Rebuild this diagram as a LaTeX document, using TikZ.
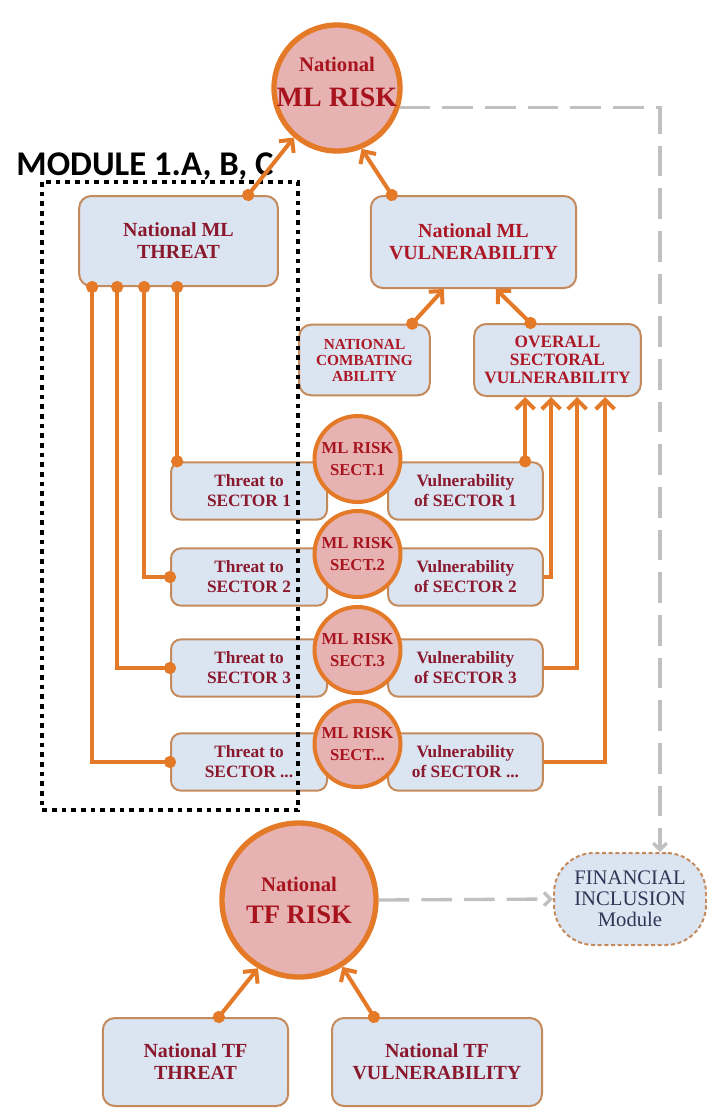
\documentclass[tikz,border=0pt]{standalone}
\usepackage{fontspec}
\setmainfont{Liberation Serif}
\newfontfamily\modfont{Carlito}
\usetikzlibrary{arrows.meta}

\definecolor{lineorange}{RGB}{228,122,40}
\definecolor{boxfill}{RGB}{219,228,241}
\definecolor{boxline}{RGB}{196,138,92}
\definecolor{riskfill}{RGB}{230,178,178}
\definecolor{boxtext}{RGB}{138,25,45}
\definecolor{capsred}{RGB}{172,24,38}
\definecolor{risktext}{RGB}{168,20,30}
\definecolor{linkgrey}{RGB}{192,192,192}
\definecolor{incltext}{RGB}{45,55,85}

\tikzset{every picture/.style={line width=0.75pt}}
\tikzset{
  panel/.style={draw=boxline, fill=boxfill, line width=1.5pt, rounded corners=9pt, align=center, text=boxtext, font=\fontsize{15}{16.5}\selectfont\bfseries},
  secpanel/.style={panel, rounded corners=7.5pt, minimum width=117pt, minimum height=43pt, font=\fontsize{13}{15}\selectfont\bfseries},
  capspanel/.style={panel, text=capsred},
  inclpanel/.style={panel, dash pattern=on 3pt off 2pt, rounded corners=30pt, text=incltext, font=\fontsize{15.5}{15.75}\selectfont, inner sep=1pt},
  riskdisc/.style={circle, draw=lineorange, fill=riskfill, line width=4pt, text=risktext, align=center, font=\fontsize{15.5}{20}\selectfont\bfseries},
  secdisc/.style={riskdisc, line width=3pt, minimum size=64.5pt, inner sep=0pt, font=\fontsize{12.5}{16}\selectfont\bfseries},
  feeds/.style={draw=lineorange, line width=3pt, {Circle[length=9pt]}-{Straight Barb[length=7pt,width=14pt]}, shorten <=-4.5pt},
  feedon/.style={draw=lineorange, line width=3pt, -{Straight Barb[length=7pt,width=14pt]}},
  tie/.style={draw=lineorange, line width=3pt, {Circle[length=9pt]}-{Circle[length=9pt]}, shorten <=-4.5pt, shorten >=-4.5pt},
  greylink/.style={draw=linkgrey, line width=2.5pt, dash pattern=on 23pt off 9pt, -{Straight Barb[length=5pt,width=10pt]}},
  modline/.style={draw=black, line width=3.5pt, dash pattern=on 3.5pt off 3.75pt},
}

\begin{document}
\begin{tikzpicture}[x=0.75pt,y=0.75pt,yscale=-1,xscale=1]
\useasboundingbox (0,0) rectangle (707,1108);

% ML risk
\draw (337,88) node [riskdisc, minimum size=94.5pt, inner sep=-8pt] (mlrisk) {National\\[6pt]{\fontsize{21}{22}\selectfont ML RISK\rule[-9pt]{0pt}{0pt}}};

% Top boxes
\draw (178.5,241) node [panel, minimum width=149pt, minimum height=67.5pt] (mlthreat) {National ML\\THREAT};
\draw (473.5,242) node [capspanel, minimum width=154pt, minimum height=69pt] (mlvuln) {National ML\\VULNERABILITY};
\draw (364.5,360) node [capspanel, minimum width=98pt, minimum height=53pt, font=\fontsize{11.5}{12}\selectfont\bfseries] (combat) {NATIONAL\\COMBATING\\ABILITY};
\draw (557.5,360) node [capspanel, minimum width=125pt, minimum height=54pt, font=\fontsize{13}{13.5}\selectfont\bfseries] (overall) {OVERALL\\SECTORAL\\VULNERABILITY};

% Sector rows
\draw (249,491) node [secpanel] (threat1) {Threat to\\SECTOR 1};
\draw (249,577) node [secpanel] (threat2) {Threat to\\SECTOR 2};
\draw (249,668) node [secpanel] (threat3) {Threat to\\SECTOR 3};
\draw (249,762) node [secpanel] (threat4) {Threat to\\SECTOR ...};
\draw (465.5,491) node [secpanel, minimum width=116pt] (vuln1) {Vulnerability\\of SECTOR 1};
\draw (465.5,577) node [secpanel, minimum width=116pt] (vuln2) {Vulnerability\\of SECTOR 2};
\draw (465.5,668) node [secpanel, minimum width=116pt] (vuln3) {Vulnerability\\of SECTOR 3};
\draw (465.5,762) node [secpanel, minimum width=116pt] (vuln4) {Vulnerability\\of SECTOR ...};
\draw (357.5,459) node [secdisc] (sect1) {ML RISK\\SECT.1};
\draw (357.5,554) node [secdisc] (sect2) {ML RISK\\SECT.2};
\draw (357.5,650) node [secdisc] (sect3) {ML RISK\\SECT.3};
\draw (357.5,744) node [secdisc] (sect4) {ML RISK\\SECT...};

% TF part
\draw (299,900) node [riskdisc, minimum size=115.5pt, inner sep=0pt] (tfrisk) {National\\[4pt]{\fontsize{20}{22}\selectfont TF RISK}};
\draw (630,899) node [inclpanel, minimum width=114pt, minimum height=69pt] (finincl) {FINANCIAL\\INCLUSION\\Module};
\draw (195.5,1062) node [panel, minimum width=139pt, minimum height=66pt] (tfthreat) {National TF\\THREAT};
\draw (437,1062) node [panel, minimum width=157.5pt, minimum height=66pt] (tfvuln) {National TF\\VULNERABILITY};

% Module frame
\draw [modline] (42,182) rectangle (298,810);
\draw (145,166) node [font=\modfont\fontsize{26}{26}\selectfont\bfseries] (modlabel) {MODULE 1.A, B, C};

% Into ML risk
\draw [feeds] ([xshift=-23pt]mlthreat.north east) -- (mlrisk.229);
\draw [feeds] ([xshift=16.5pt]mlvuln.north west) -- (mlrisk.292);
\draw [feeds] ([xshift=-14pt]combat.north east) -- ([xshift=55.5pt]mlvuln.south west);
\draw [feeds] ([xshift=43pt]overall.north west) -- ([xshift=94.5pt]mlvuln.south west);

% Threat branches
\coordinate (tA) at ([xshift=74.25pt]mlthreat.south west);
\coordinate (tB) at ([xshift=49.5pt]mlthreat.south west);
\coordinate (tC) at ([xshift=29.25pt]mlthreat.south west);
\coordinate (tD) at ([xshift=10.5pt]mlthreat.south west);
\draw [tie] (tA) -- (tA |- threat1.north);
\draw [tie] (tB) |- (threat2.west);
\draw [tie] (tC) |- (threat3.west);
\draw [tie] (tD) |- (threat4.west);

% Vulnerability branches
\coordinate (oA) at ([xshift=39pt]overall.south west);
\coordinate (oB) at ([xshift=58.5pt]overall.south west);
\coordinate (oC) at ([xshift=78pt]overall.south west);
\coordinate (oD) at ([xshift=99pt]overall.south west);
\draw [feeds] (oA |- vuln1.north) -- (oA);
\draw [feedon] (vuln2.east) -| (oB);
\draw [feedon] (vuln3.east) -| (oC);
\draw [feedon] (vuln4.east) -| (oD);

% Grey links
\draw [greylink] (mlrisk.-17) -| ([xshift=22.5pt]finincl.north);
\draw [greylink] (tfrisk.east) -- (finincl.west);

% Into TF risk
\draw [feeds] ([xshift=87.75pt]tfthreat.north west) -- (tfrisk.239);
\draw [feeds] ([xshift=32.25pt]tfvuln.north west) -- (tfrisk.303);

\end{tikzpicture}
\end{document}
